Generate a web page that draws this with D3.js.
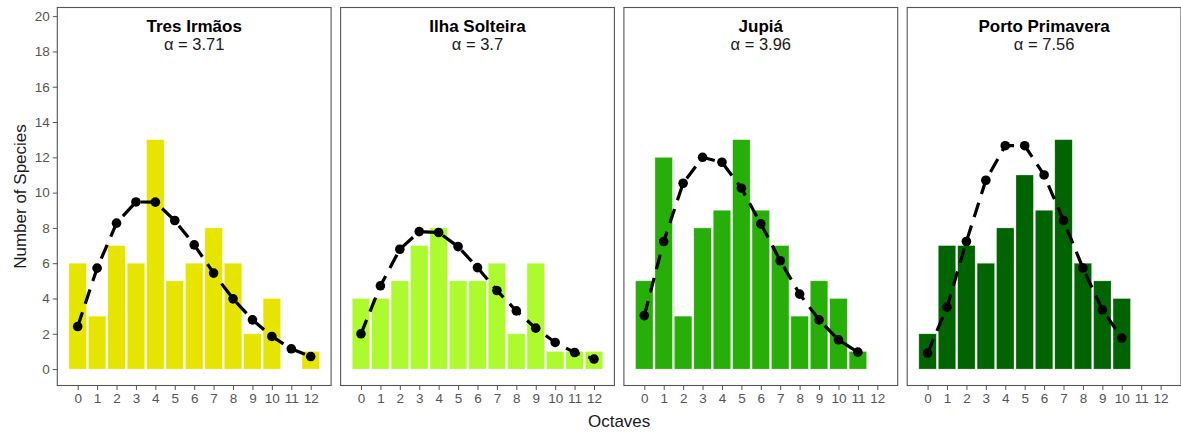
<!DOCTYPE html>
<html>
<head>
<meta charset="utf-8">
<script src="https://cdn.jsdelivr.net/npm/d3@7"></script>
<style>
  body { margin: 0; background: #fff; }
  svg { display: block; font-family: "Liberation Sans", Arial, sans-serif; }
</style>
</head>
<body>
<div id="chart"></div>
<script>
// data
const sites = ['Tres Irmãos', 'Ilha Solteira', 'Jupiá', 'Porto Primavera'];
const alphas = ['3.71', '3.7', '3.96', '7.56'];
const colors = ['#E5E500', '#ADFB2F', '#27AE08', '#006400'];
const octaves = [0, 1, 2, 3, 4, 5, 6, 7, 8, 9, 10, 11, 12];
const yTicks = [0, 2, 4, 6, 8, 10, 12, 14, 16, 18, 20];

const observed = [
  [6, 3, 7, 6, 13, 5, 6, 8, 6, 2, 4, 0, 1],
  [4, 4, 5, 7, 8, 5, 5, 6, 2, 6, 1, 1, 1],
  [5, 12, 3, 8, 9, 13, 9, 7, 3, 5, 4, 1, 0],
  [2, 7, 7, 6, 8, 11, 9, 13, 6, 5, 4]
];
const fitted = [
  [2.41, 5.72, 8.27, 9.47, 9.46, 8.42, 7.04, 5.44, 3.98, 2.79, 1.85, 1.15, 0.71],
  [2.0, 4.72, 6.79, 7.79, 7.74, 6.94, 5.75, 4.45, 3.30, 2.32, 1.51, 0.94, 0.57],
  [3.03, 7.23, 10.53, 12.0, 11.72, 10.25, 8.23, 6.14, 4.25, 2.79, 1.66, 0.96],
  [0.91, 3.51, 7.23, 10.7, 12.66, 12.66, 11.0, 8.42, 5.72, 3.36, 1.76]
];

const W = 1181, H = 432;
const margin = { top: 7.5, right: 0, bottom: 46.5, left: 57.3 };
const gap = 9.5;
const panelW = (W - margin.left - margin.right - gap * 3) / 4;
const panelH = H - margin.top - margin.bottom;

const svg = d3.select('#chart').append('svg')
  .attr('width', W)
  .attr('height', H);

const y = d3.scaleLinear().domain([-0.93, 20.49]).range([panelH, 0]);
const x = d3.scaleLinear().domain([-1.05, 13.05]).range([0, panelW]);
const barW = x(0.9) - x(0);

sites.forEach((site, i) => {
  const g = svg.append('g')
    .attr('transform', `translate(${margin.left + i * (panelW + gap)}, ${margin.top})`);

  // bars
  g.selectAll('rect.bar')
    .data(observed[i].map((v, k) => ({ k: octaves[k], v })).filter(d => d.v > 0))
    .join('rect')
    .attr('class', 'bar')
    .attr('x', d => x(d.k) - barW / 2)
    .attr('width', barW)
    .attr('y', d => y(d.v))
    .attr('height', d => y(0) - y(d.v))
    .attr('fill', colors[i])
    .attr('stroke', '#fff')
    .attr('stroke-opacity', 0.5)
    .attr('stroke-width', 0.6);

  // fitted line
  const pts = fitted[i].map((v, k) => ({ k: octaves[k], v }));
  const line = d3.line().x(d => x(d.k)).y(d => y(d.v));
  g.append('path')
    .datum(pts)
    .attr('d', line)
    .attr('fill', 'none')
    .attr('stroke', '#000')
    .attr('stroke-width', 3.2)
    .attr('stroke-dasharray', '15,9');

  g.selectAll('circle')
    .data(pts)
    .join('circle')
    .attr('cx', d => x(d.k))
    .attr('cy', d => y(d.v))
    .attr('r', 4.8)
    .attr('fill', '#000');

  // panel border
  g.append('rect')
    .attr('width', panelW)
    .attr('height', panelH)
    .attr('fill', 'none')
    .attr('stroke', '#555')
    .attr('stroke-width', 1.1);

  // titles
  g.append('text')
    .attr('x', panelW / 2)
    .attr('y', 24)
    .attr('text-anchor', 'middle')
    .style('font-size', '17px')
    .style('font-weight', 'bold')
    .text(site);

  g.append('text')
    .attr('x', panelW / 2)
    .attr('y', 42.5)
    .attr('text-anchor', 'middle')
    .style('font-size', '16.5px')
    .attr('fill', '#1a1a1a')
    .text(`α = ${alphas[i]}`);

  // x axis
  const xAxis = g.append('g')
    .attr('transform', `translate(0, ${panelH})`)
    .call(d3.axisBottom(x).tickValues(octaves).tickSize(4.5).tickPadding(3).tickFormat(d3.format('d')));
  xAxis.select('.domain').remove();
  xAxis.selectAll('line').attr('stroke', '#555');
  xAxis.selectAll('text').attr('fill', '#555').style('font-size', '13.5px');

  if (i === 0) {
    const yAxis = g.append('g')
      .call(d3.axisLeft(y).tickValues(yTicks).tickSize(4.5).tickPadding(3));
    yAxis.select('.domain').remove();
    yAxis.selectAll('line').attr('stroke', '#555');
    yAxis.selectAll('text').attr('fill', '#555').style('font-size', '13.5px');
  }
});

svg.append('text')
  .attr('transform', `translate(20, ${margin.top + panelH / 2}) rotate(-90)`)
  .attr('text-anchor', 'middle')
  .attr('dy', '0.35em')
  .style('font-size', '17px')
  .attr('fill', '#1a1a1a')
  .text('Number of Species');

svg.append('text')
  .attr('x', margin.left + (W - margin.left) / 2)
  .attr('y', 427)
  .attr('text-anchor', 'middle')
  .style('font-size', '17px')
  .attr('fill', '#1a1a1a')
  .text('Octaves');
</script>
</body>
</html>
